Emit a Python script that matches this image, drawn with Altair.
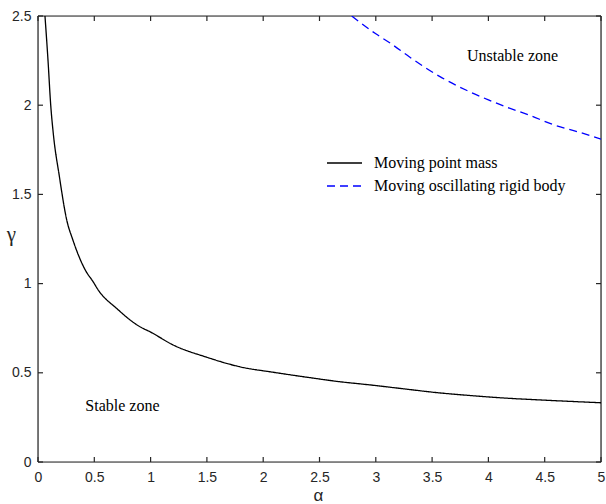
import altair as alt
import pandas as pd

# Stability boundary for the moving point mass (alpha, gamma)
mass_alpha = [0.062, 0.089, 0.113, 0.136, 0.19, 0.255, 0.31, 0.42, 0.49, 0.535,
              0.70, 0.906, 0.995, 1.20, 1.50, 1.79, 2.09, 2.39, 2.68, 2.95,
              3.25, 3.54, 3.83, 4.13, 4.42, 4.72, 5.0]
mass_gamma = [2.5, 2.25, 2.0, 1.84, 1.6, 1.357, 1.244, 1.076, 1.01, 0.964,
              0.86, 0.758, 0.73, 0.656, 0.587, 0.534, 0.503, 0.475, 0.45, 0.432,
              0.41, 0.389, 0.373, 0.359, 0.349, 0.34, 0.332]

# Stability boundary for the moving oscillating rigid body
body_alpha = [2.786, 3.0, 3.13, 3.3, 3.57, 3.8, 4.0, 4.16, 4.36, 4.58, 4.8, 5.0]
body_gamma = [2.5, 2.40, 2.347, 2.27, 2.16, 2.085, 2.03, 1.99, 1.945, 1.89, 1.85, 1.81]

series_names = ["Moving point mass", "Moving oscillating rigid body"]
series_colors = ["black", "blue"]

x_ticks = [0, 0.5, 1, 1.5, 2, 2.5, 3, 3.5, 4, 4.5, 5]
y_ticks = [0, 0.5, 1, 1.5, 2, 2.5]

zone_labels = ["Stable zone", "Unstable zone"]
zone_alpha = [0.42, 3.81]
zone_gamma = [0.314, 2.276]

W, H = 563, 446
X_MAX, Y_MAX = 5.0, 2.5
TICK_PX = 5
AXIS_COLOR = "#262626"
SERIF = "Liberation Serif"
SANS = "Liberation Sans"

curves = pd.concat([
    pd.DataFrame({"alpha": mass_alpha, "gamma": mass_gamma,
                  "series": series_names[0], "order": range(len(mass_alpha))}),
    pd.DataFrame({"alpha": body_alpha, "gamma": body_gamma,
                  "series": series_names[1], "order": range(len(body_alpha))}),
])

# Tick segments along the four frame edges, one row per tick
dx = X_MAX * TICK_PX / W
dy = Y_MAX * TICK_PX / H
tick_rows = []
for t in x_ticks:
    tick_rows.append({"x1": t, "x2": t, "y1": 0.0, "y2": dy})
    tick_rows.append({"x1": t, "x2": t, "y1": Y_MAX - dy, "y2": Y_MAX})
for t in y_ticks:
    tick_rows.append({"x1": 0.0, "x2": dx, "y1": t, "y2": t})
    tick_rows.append({"x1": X_MAX - dx, "x2": X_MAX, "y1": t, "y2": t})
ticks_df = pd.DataFrame(tick_rows)

# The four sides of the plot frame
frame_df = pd.DataFrame({
    "x1": [0.0, 0.0, 0.0, X_MAX],
    "x2": [X_MAX, X_MAX, 0.0, X_MAX],
    "y1": [0.0, Y_MAX, 0.0, 0.0],
    "y2": [0.0, Y_MAX, Y_MAX, Y_MAX],
})

xscale = alt.Scale(domain=[0, X_MAX], nice=False, zero=False)
yscale = alt.Scale(domain=[0, Y_MAX], nice=False, zero=False)

x_axis = alt.Axis(values=x_ticks, ticks=False, domain=False, grid=False,
                  labelFont=SANS, labelFontSize=14, labelColor=AXIS_COLOR,
                  labelPadding=8, labelFlush=False, labelExpr="datum.value",
                  title="α", titleFont=SANS, titleFontSize=17,
                  titleFontWeight="normal", titleColor=AXIS_COLOR,
                  titleX=280, titleY=33, titleBaseline="middle",
                  titleAnchor="start", titleAlign="center")
y_axis = alt.Axis(values=y_ticks, ticks=False, domain=False, grid=False,
                  labelFont=SANS, labelFontSize=14, labelColor=AXIS_COLOR,
                  labelPadding=7, labelFlush=False, labelExpr="datum.value",
                  title="γ", titleFont=SERIF, titleFontSize=21,
                  titleFontWeight="normal", titleColor=AXIS_COLOR,
                  titleAngle=0, titleX=-27, titleY=218, titleBaseline="middle",
                  titleAlign="center")

legend = alt.Legend(title=None, orient="none", legendX=288, legendY=139,
                    symbolType="stroke", symbolSize=1225, symbolStrokeWidth=1.3,
                    labelFont=SERIF, labelFontSize=16, labelColor="black",
                    labelOffset=11, clipHeight=16, rowPadding=7, padding=0,
                    labelLimit=400)

lines = alt.Chart(curves).mark_line(strokeWidth=1.3, clip=True,
                                    interpolate="monotone").encode(
    x=alt.X("alpha:Q", scale=xscale, axis=x_axis),
    y=alt.Y("gamma:Q", scale=yscale, axis=y_axis),
    order="order:Q",
    color=alt.Color("series:N",
                    scale=alt.Scale(domain=series_names, range=series_colors),
                    legend=legend),
    strokeDash=alt.StrokeDash("series:N",
                              scale=alt.Scale(domain=series_names,
                                              range=[[1, 0], [8, 5]]),
                              legend=legend),
)

zones = alt.Chart(pd.DataFrame({"label": zone_labels, "a": zone_alpha,
                                "g": zone_gamma})).mark_text(
    font=SERIF, fontSize=16, align="left", baseline="middle", color="black"
).encode(x=alt.X("a:Q", scale=xscale), y=alt.Y("g:Q", scale=yscale),
         text="label:N")

# Inward ticks on all four sides
ticks = alt.Chart(ticks_df).mark_rule(color=AXIS_COLOR, strokeWidth=1.2).encode(
    x=alt.X("x1:Q", scale=xscale), x2="x2:Q",
    y=alt.Y("y1:Q", scale=yscale), y2="y2:Q")

frame = alt.Chart(frame_df).mark_rule(color=AXIS_COLOR, strokeWidth=1.2).encode(
    x=alt.X("x1:Q", scale=xscale), x2="x2:Q",
    y=alt.Y("y1:Q", scale=yscale), y2="y2:Q")

chart = alt.layer(frame, ticks, lines, zones).properties(
    width=W, height=H,
    autosize=alt.AutoSizeParams(type="none"),
    padding={"left": 38, "top": 16, "right": 5, "bottom": 42},
    background="white",
)

chart.save("out.html", embed_options={"renderer": "svg", "actions": False})
